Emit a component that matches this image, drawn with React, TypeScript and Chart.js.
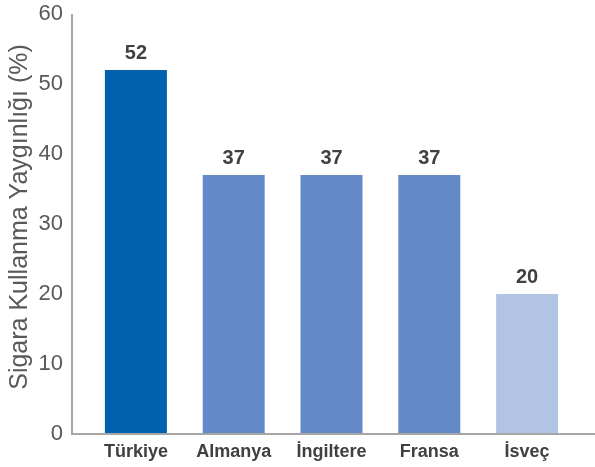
import React, { useEffect, useRef } from "react";
import { Chart, registerables } from "chart.js";

Chart.register(...registerables);

const categories = ["Türkiye", "Almanya", "İngiltere", "Fransa", "İsveç"];
const values = [52, 37, 37, 37, 20];
const barColors = ["#0062AF", "#648BC8", "#648BC8", "#648BC8", "#B2C4E4"];
const yTicks = [0, 10, 20, 30, 40, 50, 60];
const yTitle = "Sigara Kullanma Yaygınlığı (%)";

const FONT = "'Liberation Sans', Arial, sans-serif";

const overlayPlugin = {
  id: "overlay",
  afterDatasetsDraw(chart: any) {
    const ctx = chart.ctx;
    const meta = chart.getDatasetMeta(0);
    ctx.save();
    ctx.font = `bold 20px ${FONT}`;
    ctx.fillStyle = "#404040";
    ctx.textAlign = "center";
    ctx.textBaseline = "alphabetic";
    meta.data.forEach((bar: any, i: number) => {
      ctx.fillText(String(values[i]), bar.x, bar.y - 11);
    });
    // axis lines
    const yScale = chart.scales.y;
    const top = yScale.getPixelForValue(60);
    const bottom = yScale.getPixelForValue(0);
    const axisX = 72;
    ctx.strokeStyle = "#A6A6A6";
    ctx.lineWidth = 2;
    ctx.beginPath();
    ctx.moveTo(axisX, top);
    ctx.lineTo(axisX, bottom);
    ctx.lineTo(chart.width, bottom);
    ctx.stroke();
    // y title
    ctx.translate(20, 217);
    ctx.rotate(-Math.PI / 2);
    ctx.font = `25px ${FONT}`;
    ctx.fillStyle = "#595959";
    ctx.textBaseline = "middle";
    ctx.fillText(yTitle, 0, 0);
    ctx.restore();
  },
};

export default function App() {
  const ref = useRef<HTMLCanvasElement>(null);
  useEffect(() => {
    if (!ref.current) return;
    const chart = new Chart(ref.current, {
      type: "bar",
      data: {
        labels: categories,
        datasets: [
          {
            data: values,
            backgroundColor: barColors,
            borderWidth: 0,
            categoryPercentage: 1,
            barPercentage: 0.634,
          },
        ],
      },
      options: {
        animation: false,
        responsive: false,
        maintainAspectRatio: false,
        layout: { padding: { top: 14, right: 19, left: 0, bottom: 0 } },
        plugins: {
          legend: { display: false },
          tooltip: { enabled: false },
        },
        scales: {
          x: {
            grid: { display: false, drawTicks: false },
            border: { display: false },
            ticks: {
              color: "#404040",
              font: { family: FONT, size: 18, weight: "bold" },
              padding: 7,
            },
            afterFit(scale: any) {
              scale.height = 33;
              scale.paddingLeft = 0;
              scale.paddingRight = 0;
            },
          },
          y: {
            min: 0,
            max: 60,
            afterBuildTicks(scale: any) {
              scale.ticks = yTicks.map((v) => ({ value: v }));
            },
            grid: { display: false, drawTicks: false },
            border: { display: false },
            ticks: {
              color: "#595959",
              font: { family: FONT, size: 22 },
              padding: 24,
            },
            afterFit(scale: any) {
              scale.width = 87;
              scale.paddingTop = 0;
              scale.paddingBottom = 0;
            },
          },
        },
      },
      plugins: [overlayPlugin],
    });
    return () => chart.destroy();
  }, []);
  return (
    <div style={{ position: "fixed", left: 0, top: 0, width: 595, height: 467, background: "#fff" }}>
      <canvas ref={ref} width={595} height={467} style={{ width: 595, height: 467 }} />
    </div>
  );
}
